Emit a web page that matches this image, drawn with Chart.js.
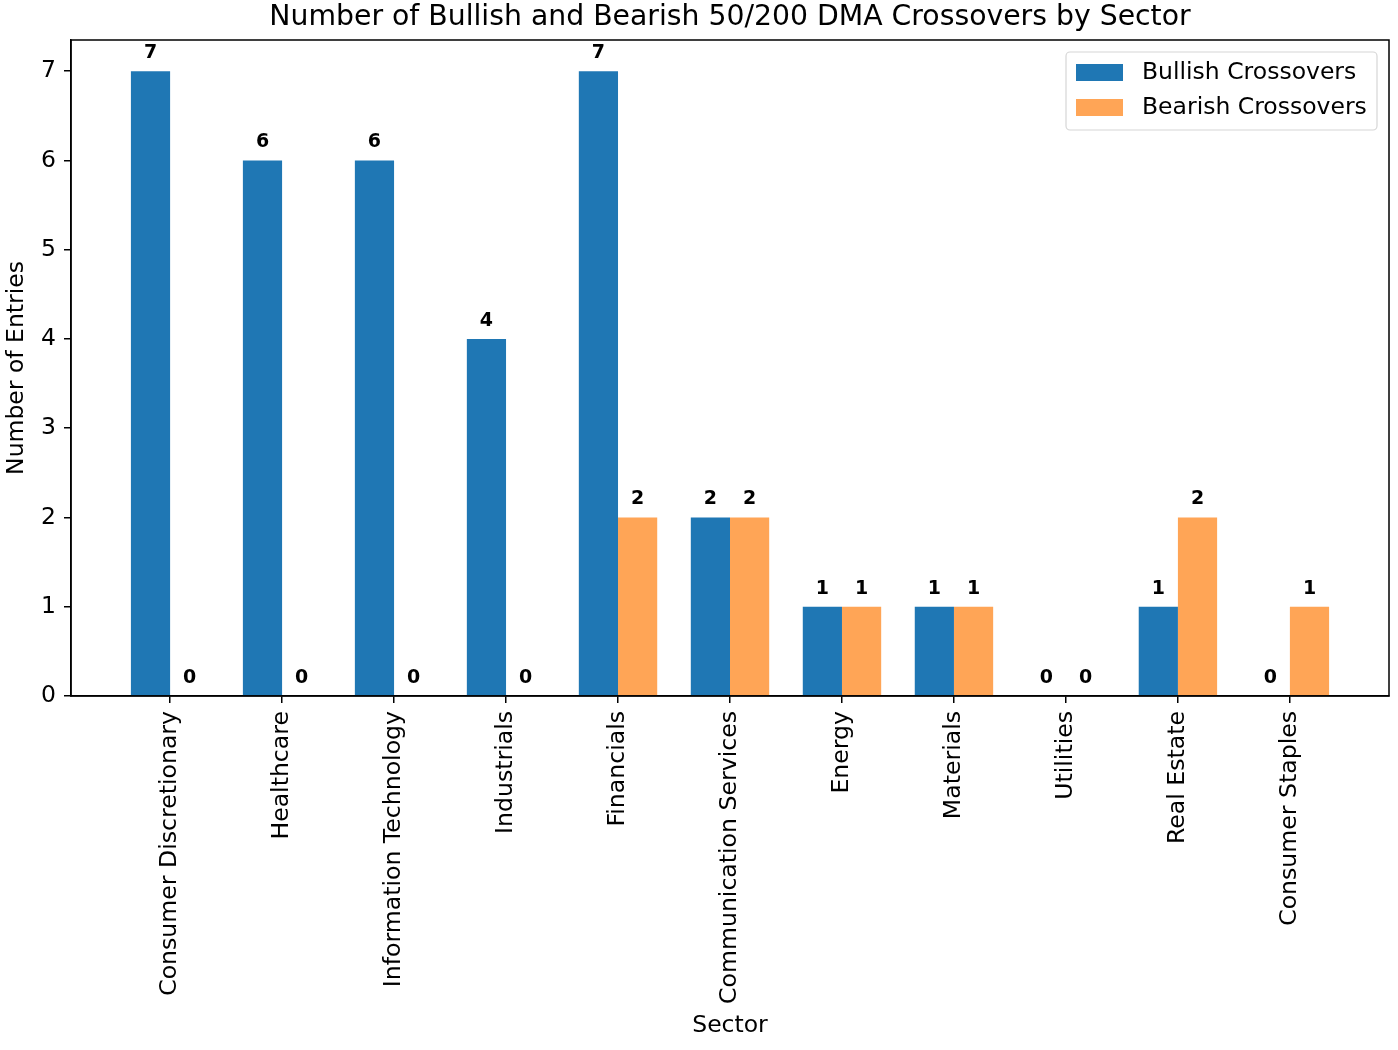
<!DOCTYPE html>
<html>
<head>
<meta charset="utf-8">
<script src="https://cdn.jsdelivr.net/npm/chart.js@4/dist/chart.umd.min.js"></script>
<style>
  body { margin: 0; background: #fff; }
  #wrap { width: 1398px; height: 1050px; }
</style>
</head>
<body>
<div id="wrap"><canvas id="chart" width="1398" height="1050"></canvas></div>
<script>
const sectors = ['Consumer Discretionary', 'Healthcare', 'Information Technology', 'Industrials',
  'Financials', 'Communication Services', 'Energy', 'Materials', 'Utilities', 'Real Estate', 'Consumer Staples'];
const bullish = [7, 6, 6, 4, 7, 2, 1, 1, 0, 1, 0];
const bearish = [0, 0, 0, 0, 2, 2, 1, 1, 0, 2, 1];
const yTicks = [0, 1, 2, 3, 4, 5, 6, 7];
const chartTitle = 'Number of Bullish and Bearish 50/200 DMA Crossovers by Sector';

const FONT = "'DejaVu Sans', sans-serif";

// value labels on top of every bar
const barLabels = {
  id: 'barLabels',
  afterDatasetsDraw(chart) {
    const ctx = chart.ctx;
    ctx.save();
    ctx.font = 'bold 19px ' + FONT;
    ctx.fillStyle = '#000';
    ctx.textAlign = 'center';
    ctx.textBaseline = 'alphabetic';
    chart.data.datasets.forEach((ds, di) => {
      chart.getDatasetMeta(di).data.forEach((bar, i) => {
        ctx.fillText(String(ds.data[i].y), bar.x, bar.y - 13);
      });
    });
    ctx.restore();
  }
};

// title centred over the axes, box around the axes, legend inside upper right
const frameAndLegend = {
  id: 'frameAndLegend',
  afterDraw(chart) {
    const ctx = chart.ctx;
    const a = chart.chartArea;
    ctx.save();

    ctx.font = '28.3px ' + FONT;
    ctx.fillStyle = '#000';
    ctx.textAlign = 'center';
    ctx.textBaseline = 'middle';
    ctx.fillText(chartTitle, (a.left + a.right) / 2, 18);

    ctx.strokeStyle = '#000';
    ctx.lineWidth = 1.5;
    ctx.strokeRect(a.left, a.top, a.right - a.left, a.bottom - a.top);

    const w = 311, h = 78;
    const x = a.right - 12 - w, y = a.top + 12;
    ctx.beginPath();
    ctx.roundRect(x, y, w, h, 4);
    ctx.fillStyle = 'rgba(255,255,255,0.8)';
    ctx.fill();
    ctx.strokeStyle = '#d6d6d6';
    ctx.lineWidth = 1.2;
    ctx.stroke();

    ctx.font = '23.5px ' + FONT;
    ctx.textBaseline = 'middle';
    ctx.textAlign = 'left';
    chart.data.datasets.forEach((ds, i) => {
      const ry = y + 20 + i * 35;
      ctx.fillStyle = ds.backgroundColor;
      ctx.fillRect(x + 10, ry - 8, 47, 17);
      ctx.fillStyle = '#000';
      ctx.fillText(ds.label, x + 76, ry + 1);
    });
    ctx.restore();
  }
};

new Chart(document.getElementById('chart'), {
  type: 'bar',
  data: {
    datasets: [
      {
        label: 'Bullish Crossovers',
        data: bullish.map((v, i) => ({ x: i, y: v })),
        backgroundColor: '#1f77b4'
      },
      {
        label: 'Bearish Crossovers',
        data: bearish.map((v, i) => ({ x: i, y: v })),
        backgroundColor: 'rgba(255,127,14,0.7)'
      }
    ]
  },
  options: {
    responsive: false,
    animation: false,
    devicePixelRatio: 1,
    categoryPercentage: 0.7,
    barPercentage: 1.0,
    layout: { padding: { top: 40, right: 9, left: 0, bottom: 10 } },
    plugins: {
      legend: { display: false },
      tooltip: { enabled: false },
      title: { display: false }
    },
    scales: {
      x: {
        type: 'linear',
        min: -0.885,
        max: 10.885,
        offset: false,
        afterBuildTicks(scale) {
          scale.ticks = sectors.map((_, i) => ({ value: i }));
        },
        afterFit(scale) { scale.height = 344; },
        ticks: {
          autoSkip: false,
          minRotation: 90,
          maxRotation: 90,
          color: '#000',
          padding: 8,
          font: { family: FONT, size: 23.6 },
          callback: (v) => sectors[v]
        },
        grid: { offset: false, drawOnChartArea: false, drawTicks: true, tickLength: 7, color: '#000', lineWidth: 1.5 },
        border: { display: true, color: '#000', width: 1.5 },
        title: {
          display: true,
          text: 'Sector',
          color: '#000',
          font: { family: FONT, size: 23.5 },
          padding: { top: 4, bottom: 0 }
        }
      },
      y: {
        min: 0,
        max: 7.35,
        afterBuildTicks(scale) {
          scale.ticks = yTicks.map(v => ({ value: v }));
        },
        afterFit(scale) { scale.width = 71; },
        ticks: {
          color: '#000',
          padding: 8,
          font: { family: FONT, size: 23.5 }
        },
        grid: { drawOnChartArea: false, drawTicks: true, tickLength: 7, color: '#000', lineWidth: 1.5 },
        border: { display: true, color: '#000', width: 1.5 },
        title: {
          display: true,
          text: 'Number of Entries',
          color: '#000',
          font: { family: FONT, size: 23.5 },
          padding: { top: 3, bottom: 6 }
        }
      }
    }
  },
  plugins: [barLabels, frameAndLegend]
});
</script>
</body>
</html>
